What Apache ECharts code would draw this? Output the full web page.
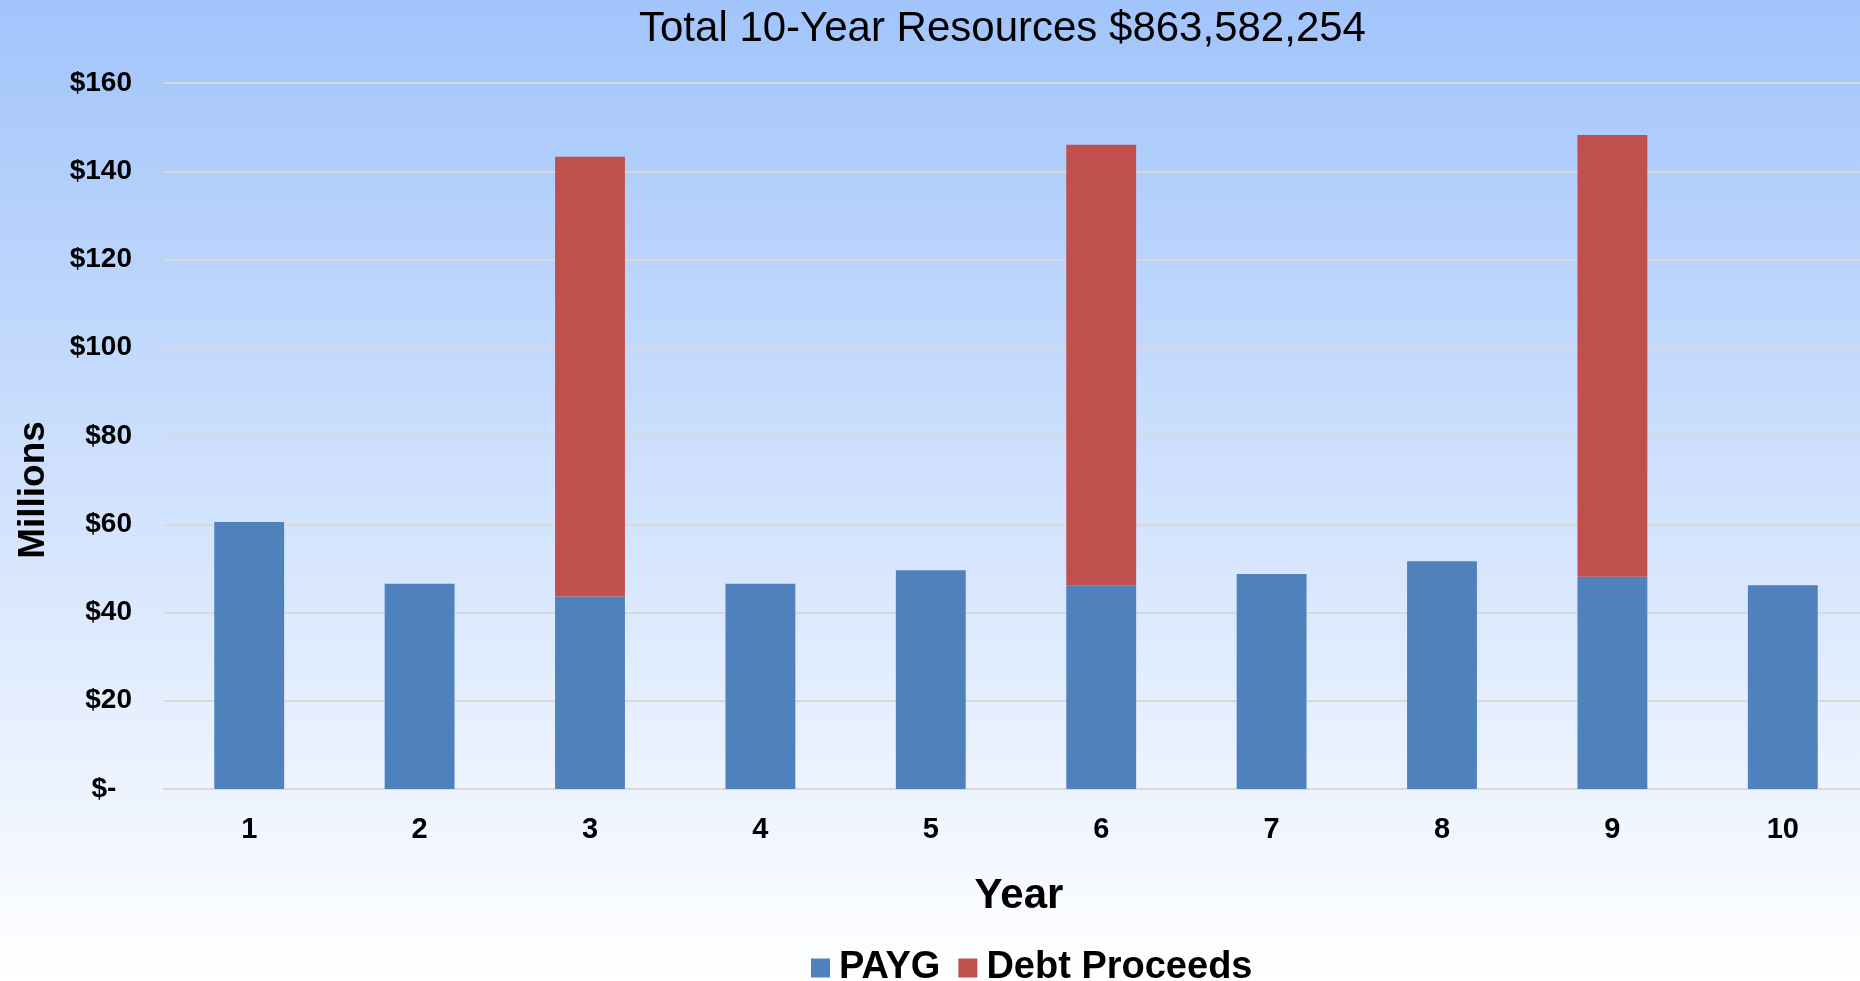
<!DOCTYPE html>
<html>
<head>
<meta charset="utf-8">
<script src="https://cdn.jsdelivr.net/npm/echarts@6/dist/echarts.min.js"></script>
<style>
  html, body { margin: 0; padding: 0; overflow: hidden; }
  /* slightly wider than the window: the plot area runs past the right edge */
  #main { width: 1868px; height: 981px; }
</style>
</head>
<body>
<div id="main"></div>
<script>
// data (millions)
const years = ['1', '2', '3', '4', '5', '6', '7', '8', '9', '10'];
const payg = [60.5, 46.5, 43.6, 46.5, 49.6, 46.2, 48.7, 51.6, 48.1, 46.2];
const debtProceeds = [null, null, 99.7, null, null, 99.8, null, null, 100.1, null];
const yTicks = [0, 20, 40, 60, 80, 100, 120, 140, 160];

const chart = echarts.init(document.getElementById('main'));
const font = 'Liberation Sans, Arial, sans-serif';

const option = {
    backgroundColor: {
        type: 'linear', x: 0, y: 0, x2: 0, y2: 1,
        colorStops: [
            { offset: 0, color: '#a1c4fb' },
            { offset: 1, color: '#ffffff' }
        ]
    },
    title: {
        text: 'Total 10-Year Resources $863,582,254',
        left: 634,
        top: 3,
        textStyle: { fontFamily: font, fontSize: 42, fontWeight: 'normal', color: '#000' }
    },
    legend: {
        left: 806,
        top: 944,
        itemWidth: 19,
        itemHeight: 19,
        itemGap: 18,
        icon: 'rect',
        textStyle: { fontFamily: font, fontSize: 38, fontWeight: 'bold', color: '#000', padding: [0, 0, 0, 4] },
        data: ['PAYG', 'Debt Proceeds']
    },
    grid: { left: 164, right: 0, top: 83, bottom: 192 },
    xAxis: {
        type: 'category',
        data: years,
        name: 'Year',
        nameLocation: 'middle',
        nameGap: 86,
        nameTextStyle: { fontFamily: font, fontSize: 42, fontWeight: 'bold', color: '#000', padding: [0, 0, 0, 6] },
        axisLine: { lineStyle: { color: '#d9d9d9', width: 2 } },
        axisTick: { show: false },
        axisLabel: { fontFamily: font, fontSize: 29, fontWeight: 'bold', color: '#000', margin: 26 }
    },
    yAxis: {
        type: 'value',
        min: yTicks[0],
        max: yTicks[yTicks.length - 1],
        interval: 20,
        axisLine: { show: false },
        axisTick: { show: false },
        splitLine: { lineStyle: { color: '#d9d9d9', width: 2 } },
        axisLabel: {
            fontFamily: font, fontSize: 28, fontWeight: 'bold', color: '#000', margin: 32,
            formatter: v => v === 0 ? '$-  ' : '$' + v
        }
    },
    graphic: [{
        type: 'text',
        x: 34, y: 490,
        rotation: Math.PI / 2,
        style: {
            text: 'Millions',
            font: 'bold 37px ' + font,
            fill: '#000',
            textAlign: 'center',
            textVerticalAlign: 'middle'
        }
    }],
    series: [
        {
            name: 'PAYG',
            type: 'bar',
            stack: 'total',
            barWidth: '41%',
            itemStyle: { color: '#4f81bd' },
            data: payg
        },
        {
            name: 'Debt Proceeds',
            type: 'bar',
            stack: 'total',
            itemStyle: { color: '#c0504d' },
            data: debtProceeds
        }
    ]
};
chart.setOption(option);
</script>
</body>
</html>
